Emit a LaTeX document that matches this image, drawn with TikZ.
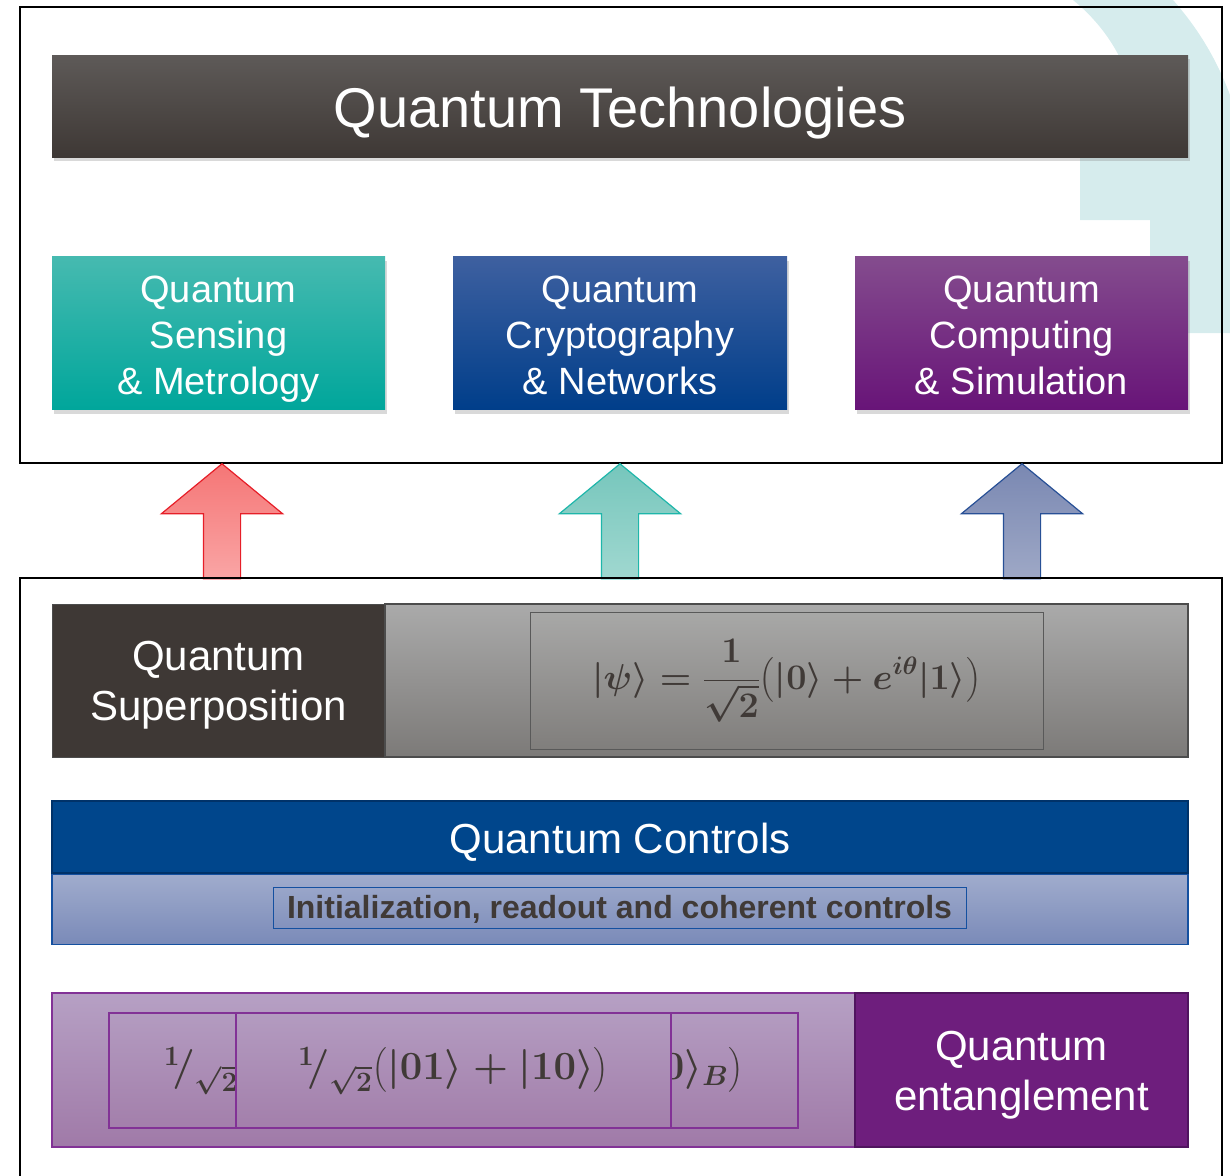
\RequirePackage{fix-cm}
\documentclass[tikz,border=0pt]{standalone}
\usepackage{amsmath}
\usepackage{fontspec}
\setmainfont{Liberation Sans}
\usetikzlibrary{shapes.arrows,shadows,positioning}
\definecolor{barDark}{RGB}{62,56,53}
\definecolor{barTop}{RGB}{94,90,88}
\definecolor{eqText}{RGB}{64,58,55}
\definecolor{bgTeal}{RGB}{214,236,237}
\definecolor{sensTop}{RGB}{70,186,176}
\definecolor{sensBot}{RGB}{0,166,155}
\definecolor{cryptTop}{RGB}{62,96,160}
\definecolor{cryptBot}{RGB}{0,62,138}
\definecolor{compTop}{RGB}{132,76,142}
\definecolor{compBot}{RGB}{104,20,120}
\definecolor{redEdge}{RGB}{230,30,40}
\definecolor{redTop}{RGB}{245,118,118}
\definecolor{redBot}{RGB}{250,165,165}
\definecolor{tealEdge}{RGB}{30,182,170}
\definecolor{tealTop}{RGB}{118,198,188}
\definecolor{tealBot}{RGB}{160,216,208}
\definecolor{blueEdge}{RGB}{40,80,150}
\definecolor{blueTop}{RGB}{122,136,178}
\definecolor{blueBot}{RGB}{158,168,198}
\definecolor{grayTop}{RGB}{170,170,170}
\definecolor{grayBot}{RGB}{124,122,120}
\definecolor{grayInTop}{RGB}{168,168,167}
\definecolor{grayInBot}{RGB}{128,126,124}
\definecolor{ctlBlue}{RGB}{0,70,140}
\definecolor{ctlEdge}{RGB}{0,50,105}
\definecolor{subEdge}{RGB}{20,80,160}
\definecolor{subTop}{RGB}{160,172,205}
\definecolor{subBot}{RGB}{122,138,184}
\definecolor{entPurple}{RGB}{110,30,125}
\definecolor{entDark}{RGB}{80,20,95}
\definecolor{entEdge}{RGB}{130,50,150}
\definecolor{lavTop}{RGB}{182,160,196}
\definecolor{lavBot}{RGB}{160,122,168}
\definecolor{lavInTop}{RGB}{179,155,192}
\definecolor{lavInBot}{RGB}{163,127,171}

\begin{document}
\begin{tikzpicture}[x=1pt,y=-1pt,
  hdr/.style={rectangle,minimum width=1136pt,minimum height=102pt,inner sep=0pt,
              top color=barTop,bottom color=barDark,text=white,
              text height=42pt,text depth=0pt,font=\fontsize{56}{60}\selectfont,
              drop shadow={shadow xshift=2pt,shadow yshift=-4pt,opacity=.3}},
  app/.style={rectangle,minimum width=333pt,minimum height=153pt,inner sep=0pt,
              text=white,align=center,font=\fontsize{38}{46}\selectfont,
              text height=122pt,text depth=0pt,
              drop shadow={shadow xshift=2pt,shadow yshift=-4pt,opacity=.3}},
  res/.style={rectangle,minimum height=153pt,inner sep=0pt,align=center,
              font=\fontsize{42}{50}\selectfont,text height=80pt,text depth=0pt},
  eqbox/.style={rectangle,inner sep=0pt,text=eqText,
                font=\fontsize{40}{48}\selectfont\boldmath},
  frame/.style={draw=black,line width=2.5pt},
  uparrow/.style={single arrow,shape border rotate=90,anchor=tip,
                  minimum height=115pt,minimum width=120pt,inner sep=18pt,
                  single arrow head extend=42pt,single arrow tip angle=101,
                  line width=1.2pt}
]
  \useasboundingbox (0,0) rectangle (1230,1175);

  % faded logo in the corner
  \fill[bgTeal] (1073,0) .. controls (1095,18) and (1110,38) .. (1120,58)
     -- (1080,58) -- (1080,220) -- (1150,220) -- (1150,333) -- (1230,333)
     -- (1230,95) .. controls (1215,55) and (1195,25) .. (1173,0) -- cycle;

  % applications
  \draw[frame] (20,7) rectangle (1222,463);
  \node[hdr](qt) at (620,106) {Quantum Technologies};
  \node[app,top color=sensTop,bottom color=sensBot](sens) at (218.5,333)
        {Quantum\\Sensing\\\& Metrology};
  \node[app,minimum width=334pt,top color=cryptTop,bottom color=cryptBot](crypt) at (620,333)
        {Quantum\\Cryptography\\\& Networks};
  \node[app,top color=compTop,bottom color=compBot](comp) at (1021.5,333)
        {Quantum\\Computing\\\& Simulation};

  % arrows between the layers
  \node[uparrow,draw=redEdge,top color=redTop,bottom color=redBot](upS) at (222,463) {};
  \node[uparrow,draw=tealEdge,top color=tealTop,bottom color=tealBot](upC) at (620,463) {};
  \node[uparrow,draw=blueEdge,top color=blueTop,bottom color=blueBot](upQ) at (1022,463) {};

  % resources
  \draw[frame] (20,1185) -- (20,578) -- (1222,578) -- (1222,1185);

  \node[res,minimum width=333pt,fill=barDark,draw=black!70,text=white](sup) at (218.5,680.5)
        {Quantum\\Superposition};
  \node[res,minimum width=803pt,draw=black!70,line width=1.5pt,
        top color=grayTop,bottom color=grayBot](supf) at (786.5,680.5) {};
  \node[eqbox,minimum width=513pt,minimum height=137pt,draw=black!65,
        top color=grayInTop,bottom color=grayInBot,
        font=\fontsize{36}{44}\selectfont\boldmath](supeq) at (786.5,680.5)
        {$\lvert\psi\rangle=\displaystyle\frac{1}{\sqrt{2}}\bigl(\lvert0\rangle+e^{i\theta}\lvert1\rangle\bigr)$};

  \node[rectangle,minimum width=1136pt,minimum height=72pt,fill=ctlBlue,
        draw=ctlEdge,line width=1.5pt,text=white,text height=32pt,text depth=0pt,
        font=\fontsize{42}{50}\selectfont](ctl) at (620,837) {Quantum Controls};
  \node[rectangle,minimum width=1136pt,minimum height=70pt,draw=subEdge,line width=1.2pt,
        top color=subTop,bottom color=subBot,below=0pt of ctl](ctlsub) {};
  \node[eqbox,minimum width=693pt,minimum height=41pt,draw=subEdge,line width=1pt,
        text height=21pt,text depth=0pt,
        font=\fontsize{32}{36}\selectfont\bfseries](ctltxt) at (619.5,907.5)
        {Initialization, readout and coherent controls};

  \node[res,minimum width=803pt,minimum height=154pt,draw=entEdge,line width=1.2pt,
        top color=lavTop,bottom color=lavBot](entf) at (453.5,1070) {};
  \node[res,minimum width=333pt,minimum height=154pt,fill=entPurple,
        draw=entDark,line width=1.5pt,text=white](ent) at (1021.5,1070)
        {Quantum\\entanglement};
  \node[eqbox,minimum width=689pt,minimum height=115pt,draw=entEdge,line width=1.2pt,
        top color=lavInTop,bottom color=lavInBot](entout) at (453.5,1070.5)
        {${}^{1}\!/_{\sqrt{2}}\bigl(\lvert0\rangle_A\;\lvert1\rangle_B\quad+\quad\lvert1\rangle_A\;\lvert0\rangle_B\bigr)$};
  \node[eqbox,minimum width=435pt,minimum height=115pt,draw=entEdge,line width=1.2pt,
        top color=lavInTop,bottom color=lavInBot](entin) at (453.5,1070.5)
        {${}^{1}\!/_{\sqrt{2}}\bigl(\lvert01\rangle+\lvert10\rangle\bigr)$};
\end{tikzpicture}
\end{document}
